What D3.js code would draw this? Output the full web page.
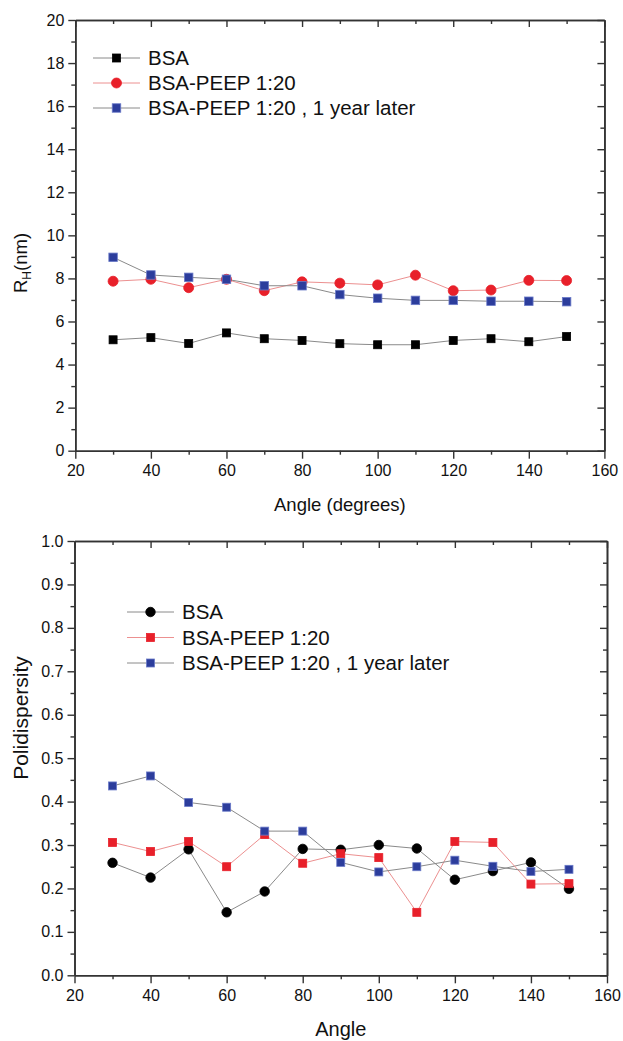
<!DOCTYPE html>
<html>
<head>
<meta charset="utf-8">
<script src="https://cdn.jsdelivr.net/npm/d3@7"></script>
<style>
  body { margin: 0; background: white; }
  text { font-family: "Liberation Sans", Arial, sans-serif; fill: #111; }
</style>
</head>
<body>
<script>
// angles shared by both panels
let angles = [30, 40, 50, 60, 70, 80, 90, 100, 110, 120, 130, 140, 150]

// top panel: hydrodynamic radius (nm)
let rhBSA = [5.15, 5.25, 4.98, 5.47, 5.2, 5.12, 4.97, 4.92, 4.92, 5.12, 5.2, 5.06, 5.3]
let rhPEEP = [7.87, 7.96, 7.57, 7.96, 7.43, 7.84, 7.78, 7.70, 8.15, 7.43, 7.46, 7.91, 7.90]
let rhPEEPyear = [8.98, 8.16, 8.05, 7.96, 7.66, 7.66, 7.25, 7.08, 6.98, 6.98, 6.94, 6.94, 6.92]

// bottom panel: polydispersity
let pdBSA = [0.259, 0.225, 0.29, 0.145, 0.193, 0.291, 0.289, 0.30, 0.292, 0.22, 0.24, 0.26, 0.199]
let pdPEEP = [0.306, 0.285, 0.308, 0.25, 0.324, 0.258, 0.28, 0.271, 0.145, 0.308, 0.306, 0.21, 0.211]
let pdPEEPyear = [0.436, 0.459, 0.398, 0.387, 0.332, 0.332, 0.26, 0.238, 0.25, 0.265, 0.251, 0.239, 0.244]

let seriesNames = ["BSA", "BSA-PEEP 1:20", "BSA-PEEP 1:20 , 1 year later"]

let xTicks = [20, 40, 60, 80, 100, 120, 140, 160]
let xMinor = [30, 50, 70, 90, 110, 130, 150]
let rhTicks = [0, 2, 4, 6, 8, 10, 12, 14, 16, 18, 20]
let rhMinor = [1, 3, 5, 7, 9, 11, 13, 15, 17, 19]
let pdTicks = [0.0, 0.1, 0.2, 0.3, 0.4, 0.5, 0.6, 0.7, 0.8, 0.9, 1.0]
let pdMinor = [0.05, 0.15, 0.25, 0.35, 0.45, 0.55, 0.65, 0.75, 0.85, 0.95]

const width = 623
const height = 1041

let svg = d3.select("body")
    .append("svg")
    .attr("width", width)
    .attr("height", height)

const axisColor = "#333"

function drawPanel(p) {
    let xScale = d3.scaleLinear().domain([20, 160]).range([p.left, p.right])
    let yScale = d3.scaleLinear().domain(p.yDomain).range([p.bottom, p.top])
    let g = svg.append("g")

    // series: line first, then markers
    p.series.forEach(function (s) {
        let line = d3.line()
            .x((d, i) => xScale(angles[i]))
            .y(d => yScale(d))
        g.append("path")
            .datum(s.values)
            .attr("d", line)
            .attr("fill", "none")
            .attr("stroke", s.lineColor)
            .attr("stroke-width", 1)
    })
    p.series.forEach(function (s) {
        drawMarkers(g, s, s.values.map((d, i) => [xScale(angles[i]), yScale(d)]))
    })

    // axes: bottom and left carry labels, top and right mirror with inward ticks
    let axes = g.append("g")
    function addAxis(gen, tx, ty) {
        let a = axes.append("g")
            .attr("transform", `translate(${tx},${ty})`)
            .call(gen)
        a.selectAll("path").attr("stroke", axisColor).attr("stroke-width", 1.6)
        a.selectAll("line").attr("stroke", axisColor).attr("stroke-width", 1.4)
        a.selectAll("text").attr("font-size", "16px").attr("fill", "#111")
            .attr("font-family", "Liberation Sans, Arial, sans-serif")
        return a
    }
    addAxis(d3.axisBottom(xScale).tickValues(xTicks).tickSize(8).tickSizeOuter(0).tickPadding(6).tickFormat(d3.format("d")), 0, p.bottom)
    addAxis(d3.axisBottom(xScale).tickValues(xMinor).tickSize(4).tickSizeOuter(0).tickFormat(""), 0, p.bottom)
    addAxis(d3.axisLeft(yScale).tickValues(p.yTicks).tickSize(7).tickSizeOuter(0).tickPadding(4).tickFormat(p.yFormat), p.left, 0)
    addAxis(d3.axisLeft(yScale).tickValues(p.yMinor).tickSize(4).tickSizeOuter(0).tickFormat(""), p.left, 0)
    addAxis(d3.axisBottom(xScale).tickValues(xTicks).tickSize(7).tickSizeOuter(0).tickFormat(""), 0, p.top)
    addAxis(d3.axisBottom(xScale).tickValues(xMinor).tickSize(4).tickSizeOuter(0).tickFormat(""), 0, p.top)
    addAxis(d3.axisLeft(yScale).tickValues(p.yTicks).tickSize(7).tickSizeOuter(0).tickFormat(""), p.right, 0)
    addAxis(d3.axisLeft(yScale).tickValues(p.yMinor).tickSize(4).tickSizeOuter(0).tickFormat(""), p.right, 0)

    // legend
    p.series.forEach(function (s, i) {
        let ly = p.legendY + i * p.legendStep
        g.append("line")
            .attr("x1", p.legendX).attr("x2", p.legendX + 47)
            .attr("y1", ly).attr("y2", ly)
            .attr("stroke", s.lineColor).attr("stroke-width", 1)
        drawMarkers(g, s, [[p.legendX + 23.5, ly]])
        g.append("text")
            .attr("x", p.legendX + 55)
            .attr("y", ly + 7.3)
            .attr("font-size", "20.5px")
            .text(seriesNames[i])
    })

    // axis titles
    g.append("text")
        .attr("x", (p.left + p.right) / 2)
        .attr("y", p.xTitleY)
        .attr("text-anchor", "middle")
        .attr("font-size", p.xTitleSize)
        .text(p.xTitle)
    let yt = g.append("text")
        .attr("transform", `translate(${p.yTitleX},${p.yTitleY}) rotate(-90)`)
        .attr("text-anchor", "middle")
        .attr("font-size", p.yTitleSize)
    p.yTitle(yt)
}

function drawMarkers(g, s, pts) {
    if (s.shape === "circle") {
        g.selectAll(null).data(pts).enter().append("circle")
            .attr("cx", d => d[0]).attr("cy", d => d[1])
            .attr("r", s.size / 2 + 0.5)
            .attr("fill", s.fill)
            .attr("stroke", s.stroke).attr("stroke-width", 0.8)
    } else {
        g.selectAll(null).data(pts).enter().append("rect")
            .attr("x", d => d[0] - s.size / 2).attr("y", d => d[1] - s.size / 2)
            .attr("width", s.size).attr("height", s.size)
            .attr("fill", s.fill)
            .attr("stroke", s.stroke).attr("stroke-width", 0.8)
    }
}

drawPanel({
    left: 75.3, right: 604.4, top: 20, bottom: 450.7,
    yDomain: [0, 20], yTicks: rhTicks, yMinor: rhMinor, yFormat: d3.format("d"),
    series: [
        { values: rhBSA, shape: "square", size: 8, fill: "#000", stroke: "#000", lineColor: "#8a8a8a" },
        { values: rhPEEP, shape: "circle", size: 9, fill: "#e8202a", stroke: "#e8202a", lineColor: "#ec9090" },
        { values: rhPEEPyear, shape: "square", size: 8.5, fill: "#2c3d9c", stroke: "#6a7ac8", lineColor: "#8a8a8a" }
    ],
    legendX: 93, legendY: 58, legendStep: 25,
    xTitle: "Angle (degrees)", xTitleY: 511, xTitleSize: "18.5px",
    yTitleX: 27, yTitleY: 263, yTitleSize: "18.5px",
    yTitle: function (t) {
        t.append("tspan").text("R")
        t.append("tspan").attr("font-size", "12px").attr("dy", 4).text("H")
        t.append("tspan").attr("dy", -4).text("(nm)")
    }
})

drawPanel({
    left: 74.5, right: 607, top: 541, bottom: 975.3,
    yDomain: [0, 1], yTicks: pdTicks, yMinor: pdMinor, yFormat: d3.format(".1f"),
    series: [
        { values: pdBSA, shape: "circle", size: 8.5, fill: "#000", stroke: "#000", lineColor: "#8a8a8a" },
        { values: pdPEEP, shape: "square", size: 8, fill: "#e8202a", stroke: "#e8202a", lineColor: "#ec9090" },
        { values: pdPEEPyear, shape: "square", size: 8, fill: "#2c3d9c", stroke: "#6a7ac8", lineColor: "#8a8a8a" }
    ],
    legendX: 127, legendY: 612, legendStep: 25.5,
    xTitle: "Angle", xTitleY: 1036, xTitleSize: "20px",
    yTitleX: 28, yTitleY: 718, yTitleSize: "21px",
    yTitle: function (t) { t.text("Polidispersity") }
})
</script>
</body>
</html>
